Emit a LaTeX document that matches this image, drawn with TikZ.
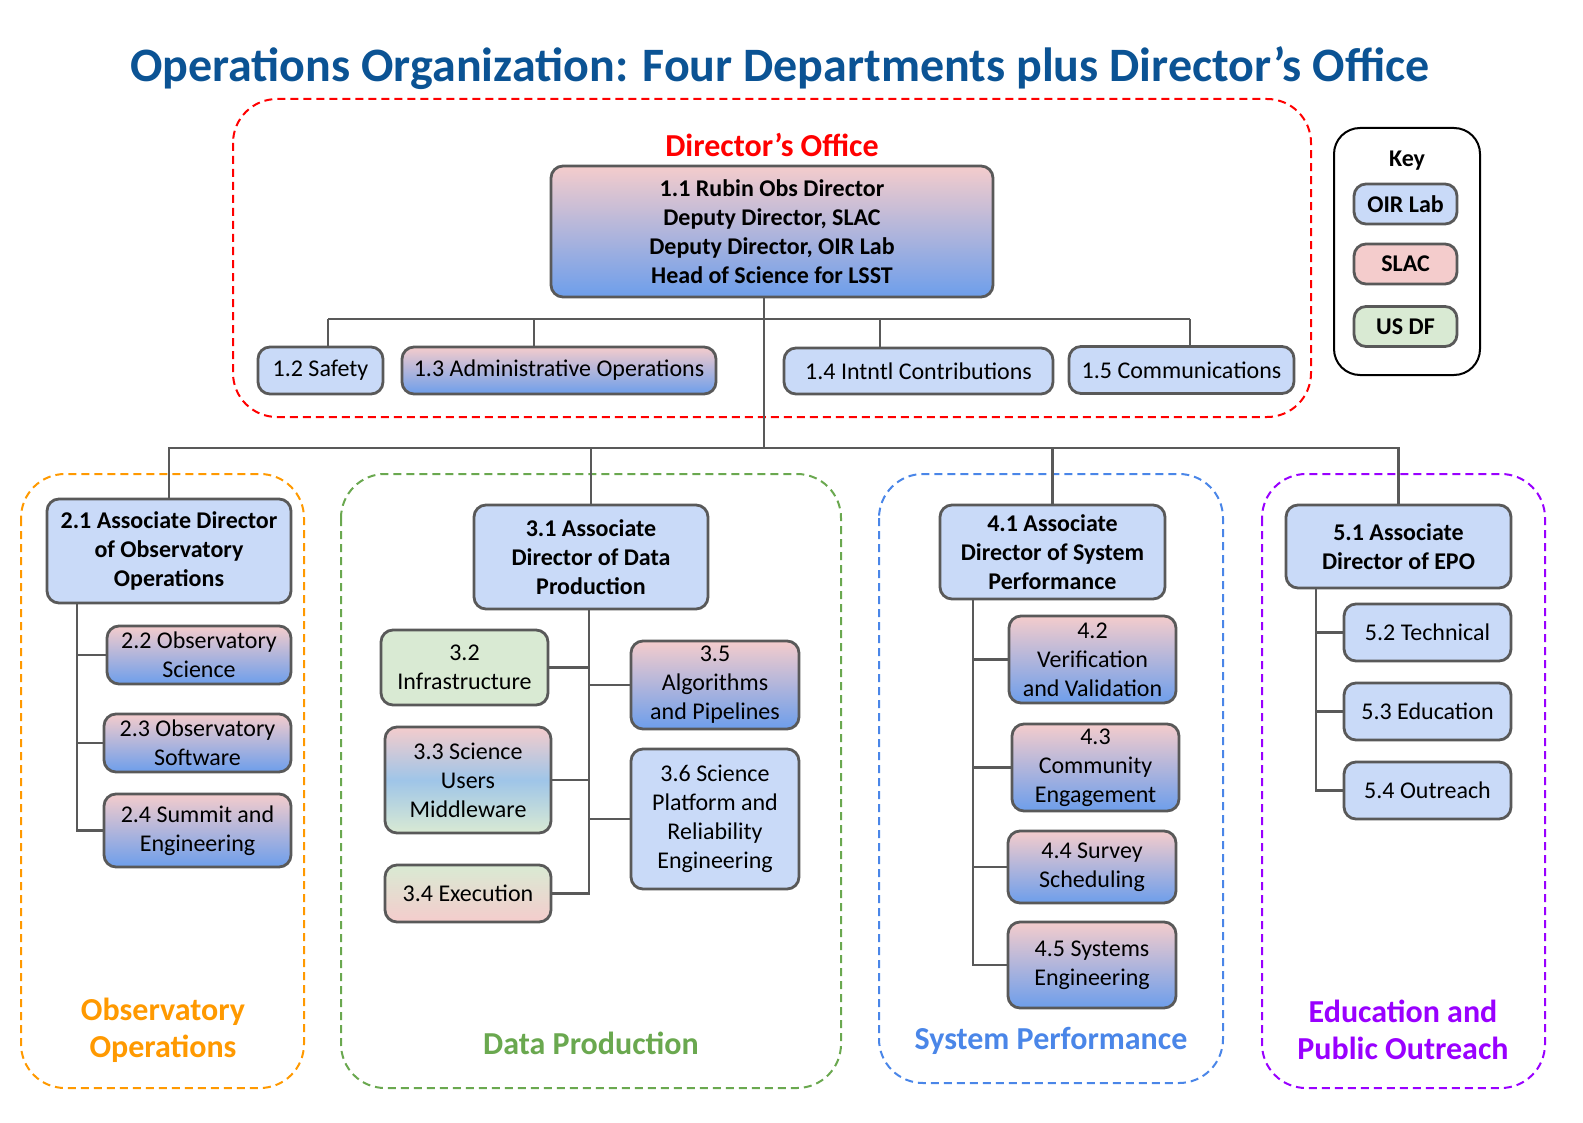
\documentclass[tikz,border=0pt]{standalone}
\usepackage{fontspec}
\setmainfont{Carlito}
\usepackage{xcolor,tikz}
\definecolor{oirblue}{HTML}{C9DAF8}
\definecolor{slacpink}{HTML}{F4CCCC}
\definecolor{usdfgreen}{HTML}{D9EAD3}
\definecolor{deepblue}{HTML}{6D9EEB}
\definecolor{midblue}{HTML}{9FC5E8}
\definecolor{edgegray}{HTML}{595959}
\definecolor{titleblue}{HTML}{0B5394}
\definecolor{doorange}{HTML}{FF9900}
\definecolor{dpgreen}{HTML}{6AA84F}
\definecolor{spblue}{HTML}{4A86E8}
\definecolor{epopurple}{HTML}{9900FF}

\begin{document}
\begin{tikzpicture}[x=0.5pt,y=-0.5pt,
    unit/.style = {draw=edgegray, line width=1.4pt, rounded corners=6pt, align=center,
                   inner sep=1pt, outer sep=0pt, font=\fontsize{12}{14.5}\selectfont},
    sz/.style 2 args = {minimum width=#1*0.5pt, minimum height=#2*0.5pt},
    oir/.style = {unit, fill=oirblue},
    slac/.style = {unit, fill=slacpink},
    usdf/.style = {unit, fill=usdfgreen},
    mixed/.style = {unit, top color=slacpink, bottom color=deepblue},
    head/.style = {font=\fontsize{12}{14.5}\selectfont\bfseries},
    conn/.style = {draw=edgegray, line width=1.4pt},
    dept/.style = {dash pattern=on 4pt off 2.5pt, line width=1pt, rounded corners=22pt},
    deptname/.style = {font=\fontsize{16}{18.5}\selectfont\bfseries, align=center}]
    \useasboundingbox (0,0) rectangle (1583,1123);

    % title
    \node[font=\fontsize{24}{28}\selectfont\bfseries, text=titleblue] (title) at (780,68)
        {Operations Organization: Four Departments plus Director’s Office};

    % dashed department frames
    \draw[dept, red] (233,99) rectangle (1311,417);
    \draw[dept, doorange] (21,474) rectangle (304,1088);
    \draw[dept, dpgreen] (341,474) rectangle (841,1088);
    \draw[dept, spblue] (879,474) rectangle (1223,1083);
    \draw[dept, epopurple] (1262,474) rectangle (1545,1088);
    \draw[line width=1pt, rounded corners=13pt] (1334,128) rectangle (1480,375);

    \node[deptname, text=red] (dolabel) at (772,145) {Director’s Office};
    \node[deptname, text=doorange] (oolabel) at (163,1030) {Observatory\\Operations};
    \node[deptname, text=dpgreen] (dplabel) at (591,1043) {Data Production};
    \node[deptname, text=spblue] (splabel) at (1051,1041) {System Performance};
    \node[deptname, text=epopurple] (epolabel) at (1403,1030) {Education and\\Public Outreach};

    % director's office
    \node[mixed, head, sz={442}{131}] (11) at (772,231.5)
        {1.1 Rubin Obs Director\\Deputy Director, SLAC\\Deputy Director, OIR Lab\\Head of Science for LSST};
    \node[oir, sz={125}{47}] (12) at (320.5,370.5) {1.2 Safety};
    \node[mixed, sz={314}{47}] (13) at (559,370.5) {1.3 Administrative Operations};
    \node[oir, sz={269}{46}] (14) at (918.5,371) {1.4 Intntl Contributions};
    \node[oir, sz={225}{47}] (15) at (1181.5,370) {1.5 Communications};

    % observatory operations
    \node[oir, head, sz={244}{104}] (21) at (169,551) {2.1 Associate Director\\of Observatory\\Operations};
    \node[mixed, sz={184}{58}] (22) at (199,655) {2.2 Observatory\\Science};
    \node[mixed, sz={187}{58}] (23) at (197.5,743) {2.3 Observatory\\Software};
    \node[mixed, sz={187}{73}] (24) at (197.5,830.5) {2.4 Summit and\\Engineering};

    % data production
    \node[oir, head, sz={234}{104}] (31) at (591,557) {3.1 Associate\\Director of Data\\Production};
    \node[usdf, sz={167}{75}] (32) at (464.5,667.5) {3.2\\Infrastructure};
    \node[unit, top color=slacpink, bottom color=usdfgreen, middle color=midblue, sz={166}{106}] (33)
        at (468,780) {3.3 Science\\Users\\Middleware};
    \node[unit, top color=usdfgreen, bottom color=slacpink, sz={166}{57}] (34) at (468,893.5) {3.4 Execution};
    \node[mixed, sz={168}{88}] (35) at (715,685) {3.5\\Algorithms\\and Pipelines};
    \node[oir, sz={168}{140}] (36) at (715,819) {3.6 Science\\Platform and\\Reliability\\Engineering};

    % system performance
    \node[oir, head, sz={225}{94}] (41) at (1052.5,552) {4.1 Associate\\Director of System\\Performance};
    \node[mixed, sz={167}{87}] (42) at (1092.5,659.5) {4.2\\Verification\\and Validation};
    \node[mixed, sz={167}{87}] (43) at (1095.5,767.5) {4.3\\Community\\Engagement};
    \node[mixed, sz={168}{72}] (44) at (1092,867) {4.4 Survey\\Scheduling};
    \node[mixed, sz={168}{86}] (45) at (1092,965) {4.5 Systems\\Engineering};

    % EPO
    \node[oir, head, sz={225}{83}] (51) at (1398.5,546.5) {5.1 Associate\\Director of EPO};
    \node[oir, sz={167}{57}] (52) at (1427.5,632.5) {5.2 Technical};
    \node[oir, sz={167}{57}] (53) at (1427.5,711.5) {5.3 Education};
    \node[oir, sz={167}{57}] (54) at (1427.5,790.5) {5.4 Outreach};

    % key
    \node[font=\fontsize{12}{14}\selectfont\bfseries] (key) at (1407,161) {Key};
    \node[oir, head, sz={103}{40}] (koir) at (1405.5,204) {OIR Lab};
    \node[slac, head, sz={103}{40}] (kslac) at (1405.5,264) {SLAC};
    \node[usdf, head, sz={103}{40}] (kusdf) at (1405.5,326.5) {US DF};

    % connectors
    \coordinate (t12) at (328,319);
    \coordinate (t13) at (534,319);
    \coordinate (t14) at (880,319);
    \coordinate (t15) at (1190,319);
    \coordinate (mbar) at (764,448);
    \draw[conn] (t12) -- (t15);
    \foreach \n in {12,13,14,15}
        \draw[conn] (t\n) -- (t\n |- \n.north);
    \draw[conn] (11.south -| mbar) -- (mbar);
    \draw[conn] (21.north) |- (mbar) -| (51.north);
    \draw[conn] (31.north) -- (31.north |- mbar);
    \draw[conn] (41.north) -- (41.north |- mbar);

    \coordinate (t2) at ([xshift=-46pt]21.south);
    \draw[conn] (t2) |- (24.west);
    \foreach \n in {22,23}
        \draw[conn] (\n.west) -- (\n.west -| t2);

    \coordinate (t3) at ([xshift=-1pt]31.south);
    \draw[conn] (t3) |- (34.east);
    \foreach \n in {32,33}
        \draw[conn] (\n.east) -- (\n.east -| t3);
    \foreach \n in {35,36}
        \draw[conn] (\n.west) -- (\n.west -| t3);

    \coordinate (t4) at ([xshift=-39.75pt]41.south);
    \draw[conn] (t4) |- (45.west);
    \foreach \n in {42,43,44}
        \draw[conn] (\n.west) -- (\n.west -| t4);

    \coordinate (t5) at ([xshift=-41.25pt]51.south);
    \draw[conn] (t5) |- (54.west);
    \foreach \n in {52,53}
        \draw[conn] (\n.west) -- (\n.west -| t5);
\end{tikzpicture}
\end{document}
